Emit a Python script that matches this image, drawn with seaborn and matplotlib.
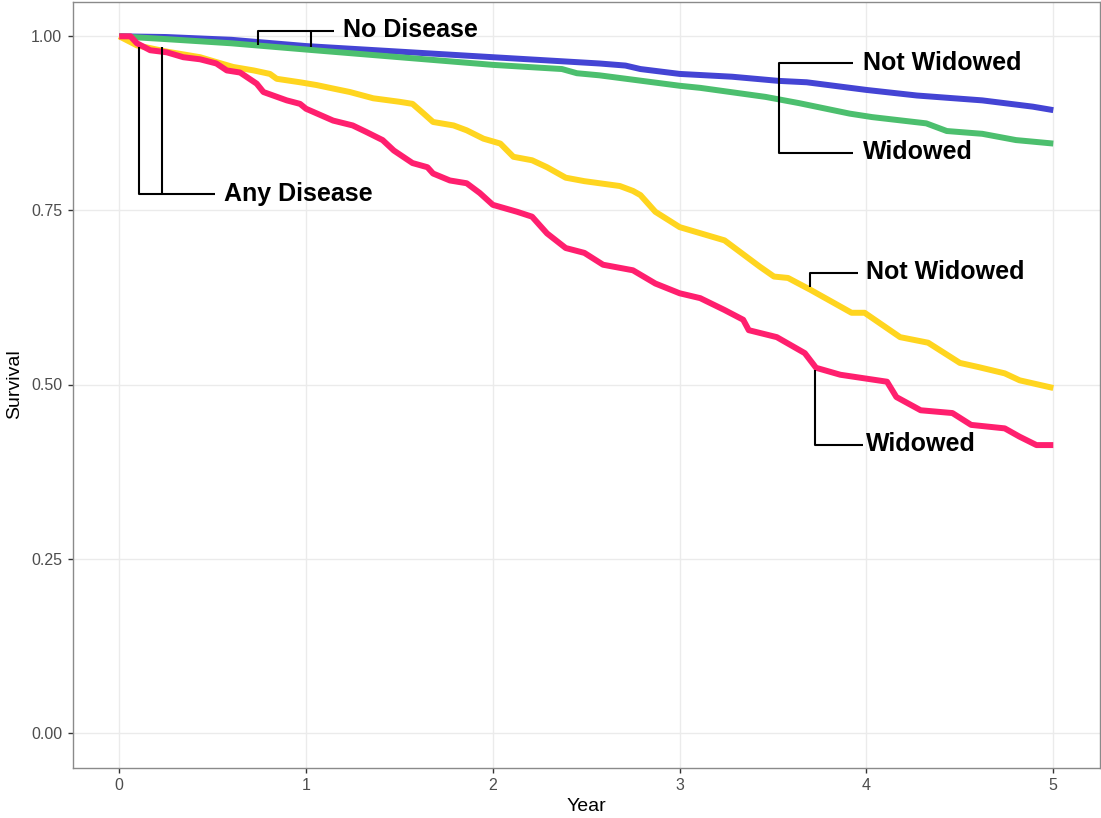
import matplotlib
matplotlib.use("Agg")
import matplotlib.pyplot as plt
import seaborn as sns
import pandas as pd

# ---- data ----
nd_nw_t = [0, 0.25, 0.6, 1.0, 1.5, 2.0, 2.57, 2.71, 2.79, 3.0, 3.28, 3.53, 3.68, 4.0, 4.27, 4.62, 4.89, 5.0]
nd_nw_s = [1.0, 0.999, 0.995, 0.986, 0.978, 0.970, 0.961, 0.958, 0.953, 0.946, 0.942, 0.936, 0.934, 0.923, 0.915, 0.908, 0.899, 0.894]

nd_w_t = [0, 0.25, 0.6, 1.0, 1.5, 2.0, 2.37, 2.45, 2.57, 3.0, 3.11, 3.46, 3.64, 3.91, 4.03, 4.32, 4.43, 4.62, 4.80, 5.0]
nd_w_s = [1.0, 0.996, 0.990, 0.981, 0.970, 0.959, 0.953, 0.947, 0.944, 0.929, 0.926, 0.913, 0.904, 0.889, 0.884, 0.875, 0.864, 0.860, 0.851, 0.846]

ad_nw_t = [0, 0.095, 0.255, 0.433, 0.52, 0.61, 0.72, 0.807, 0.843, 0.968, 1.057, 1.145, 1.235, 1.36, 1.50,
           1.57, 1.63, 1.68, 1.79, 1.86, 1.95, 2.04, 2.11, 2.21, 2.29, 2.39, 2.49, 2.68, 2.75, 2.79,
           2.87, 3.0, 3.24, 3.43, 3.505, 3.58, 3.70, 3.92, 3.99, 4.18, 4.33, 4.50, 4.60, 4.74, 4.82, 5.0]
ad_nw_s = [1.0, 0.987, 0.978, 0.970, 0.963, 0.956, 0.951, 0.946, 0.939, 0.934, 0.930, 0.925, 0.920, 0.911, 0.906,
           0.903, 0.889, 0.877, 0.872, 0.865, 0.853, 0.846, 0.827, 0.822, 0.812, 0.797, 0.792, 0.785, 0.778, 0.772,
           0.748, 0.726, 0.707, 0.669, 0.655, 0.653, 0.636, 0.603, 0.603, 0.568, 0.560, 0.531, 0.525, 0.516, 0.506, 0.495]

ad_w_t = [0, 0.06, 0.095, 0.166, 0.255, 0.343, 0.433, 0.52, 0.576, 0.647, 0.736, 0.772, 0.897, 0.968, 1.0,
          1.145, 1.25, 1.32, 1.41, 1.47, 1.57, 1.65, 1.68, 1.77, 1.86, 1.93, 2.0, 2.13, 2.21, 2.29,
          2.39, 2.49, 2.59, 2.75, 2.87, 3.0, 3.11, 3.24, 3.34, 3.37, 3.52, 3.67, 3.73, 3.86, 4.11,
          4.16, 4.29, 4.46, 4.56, 4.74, 4.82, 4.91, 5.0]
ad_w_s = [1.0, 1.0, 0.99, 0.98, 0.977, 0.970, 0.967, 0.961, 0.951, 0.948, 0.932, 0.920, 0.908, 0.903, 0.896,
          0.879, 0.872, 0.863, 0.851, 0.836, 0.818, 0.812, 0.803, 0.793, 0.789, 0.775, 0.758, 0.748, 0.741, 0.717,
          0.696, 0.689, 0.672, 0.664, 0.645, 0.631, 0.624, 0.607, 0.593, 0.578, 0.568, 0.545, 0.524, 0.514, 0.504,
          0.482, 0.463, 0.459, 0.442, 0.437, 0.425, 0.413, 0.413]

groups = ["No Disease, Not Widowed", "No Disease, Widowed", "Any Disease, Not Widowed", "Any Disease, Widowed"]
colors = ["#4444d4", "#4cbf6e", "#ffd51f", "#ff1f6e"]
x_ticks = [0, 1, 2, 3, 4, 5]
y_ticks = [0.0, 0.25, 0.5, 0.75, 1.0]
y_tick_labels = ["0.00", "0.25", "0.50", "0.75", "1.00"]

frames = []
for g, t, s in zip(groups, [nd_nw_t, nd_w_t, ad_nw_t, ad_w_t], [nd_nw_s, nd_w_s, ad_nw_s, ad_w_s]):
    frames.append(pd.DataFrame({"Year": t, "Survival": s, "group": g}))
df = pd.concat(frames, ignore_index=True)

# ---- style ----
sns.set_theme(style="white")
plt.rcParams["font.family"] = ["Liberation Sans", "DejaVu Sans"]

fig = plt.figure(figsize=(11.01, 8.18), dpi=100)
ax = fig.add_axes([72.5 / 1101, 1 - 767.5 / 818, (1100 - 72.5) / 1101, (767.5 - 1.5) / 818])

sns.lineplot(data=df, x="Year", y="Survival", hue="group", hue_order=groups,
             palette=colors, estimator=None, sort=False, linewidth=4.3,
             legend=False, ax=ax, solid_capstyle="butt", solid_joinstyle="round")

ax.set_xlim(-0.25, 5.25)
ax.set_ylim(-0.05, 1.05)
ax.set_xticks(x_ticks)
ax.set_xticklabels([str(v) for v in x_ticks])
ax.set_yticks(y_ticks)
ax.set_yticklabels(y_tick_labels)
ax.grid(True, color="#ebebeb", linewidth=1.0)
ax.set_axisbelow(True)
for sp in ax.spines.values():
    sp.set_color("#8a8a8a")
    sp.set_linewidth(1.0)
ax.tick_params(axis="both", which="major", length=3.8, width=1.0, color="#333333",
               labelcolor="#4d4d4d", labelsize=11.5, direction="out", pad=3.5,
               bottom=True, left=True)
ax.set_xlabel("Year", fontsize=14, color="black", labelpad=4)
ax.set_ylabel("Survival", fontsize=14, color="black", labelpad=6)

# ---- bracket annotations ----
lk = dict(color="black", linewidth=1.5, solid_capstyle="butt", zorder=5)
tk = dict(fontsize=18, fontweight="bold", color="black", va="center", ha="left", zorder=6)

# No Disease
ax.plot([0.743, 0.743, 1.15], [0.988, 1.007, 1.007], **lk)
ax.plot([1.027, 1.027], [0.985, 1.007], **lk)
ax.text(1.198, 1.009, "No Disease", **tk)

# Any Disease
ax.plot([0.107, 0.107, 0.513], [0.985, 0.773, 0.773], **lk)
ax.plot([0.23, 0.23], [0.985, 0.773], **lk)
ax.text(0.561, 0.774, "Any Disease", **tk)

# Upper right (No Disease curves)
ax.plot([3.93, 3.53, 3.53, 3.93], [0.961, 0.961, 0.8325, 0.8325], **lk)
ax.text(3.98, 0.962, "Not Widowed", **tk)
ax.text(3.98, 0.8335, "Widowed", **tk)

# Lower right (Any Disease curves)
ax.plot([3.697, 3.697, 3.955], [0.640, 0.6604, 0.6604], **lk)
ax.text(3.998, 0.6615, "Not Widowed", **tk)
ax.plot([3.727, 3.727, 3.984], [0.521, 0.4132, 0.4132], **lk)
ax.text(3.998, 0.4145, "Widowed", **tk)

fig.savefig("out.png", dpi=100)
